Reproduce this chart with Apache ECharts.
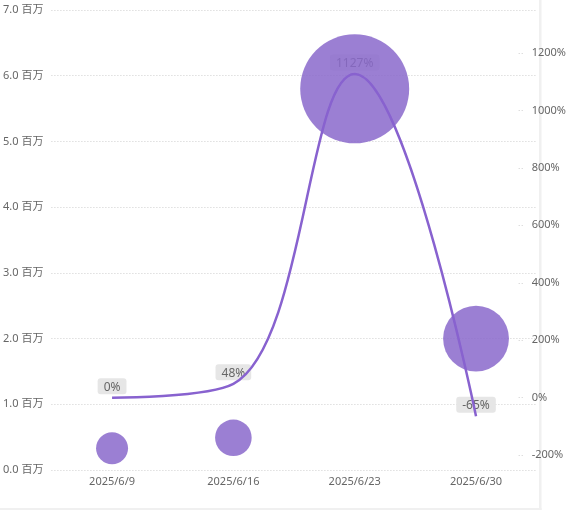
<!DOCTYPE html>
<html><head><meta charset="utf-8">
<script src="https://cdn.jsdelivr.net/npm/echarts@6/dist/echarts.min.js"></script>
<style>html,body{margin:0;padding:0;background:#fff;}#c{width:569px;height:519px;}</style>
</head><body><div id="c"></div>
<script>
var categories = ['2025/6/9', '2025/6/16', '2025/6/23', '2025/6/30'];
var amountValues = [330000, 490000, 5800000, 2000000];
var growthPct = [0, 48, 1127, -65];
var leftTicks = [0, 1, 2, 3, 4, 5, 6, 7];
var rightTicks = [-200, 0, 200, 400, 600, 800, 1000, 1200];

var FONT = '"Segoe UI","Noto Sans","Noto Sans CJK SC",sans-serif';
var chart = echarts.init(document.getElementById('c'));
var labelStyle = {
  show: true, position: 'top', distance: 3,
  formatter: function (p) { return p.value + '%'; },
  color: '#666', fontSize: 12, fontFamily: FONT,
  backgroundColor: '#e6e6e6', borderRadius: 3, padding: [3, 6, 1, 6]
};
chart.setOption({
  animation: false,
  grid: { left: 50, right: 32, top: 10, bottom: 49 },
  xAxis: {
    type: 'category', data: categories,
    axisLine: { show: false }, axisTick: { show: false },
    axisLabel: { color: '#666', fontSize: 11, fontFamily: FONT, margin: 6 }
  },
  yAxis: [{
    type: 'value', min: 0, max: 7000000, interval: 1000000,
    axisLine: { show: false }, axisTick: { show: false },
    axisLabel: { color: '#666', fontSize: 11, fontFamily: FONT, margin: 8,
      formatter: function (v) { return (v / 1e6).toFixed(1) + ' 百万'; } },
    splitLine: { lineStyle: { color: '#cfcfcf', type: [1, 2], width: 1 } }
  }, {
    type: 'value', position: 'right', offset: -14, min: -252, max: 1350,
    axisLine: { show: false },
    axisTick: { show: true, inside: true, length: 6, customValues: rightTicks,
      lineStyle: { color: '#cfcfcf', type: [1, 2] } },
    axisLabel: { color: '#666', fontSize: 11, fontFamily: FONT, margin: 9,
      customValues: rightTicks, formatter: function (v) { return v + '%'; } },
    splitLine: { show: false }
  }],
  series: [{
    type: 'line', yAxisIndex: 1, data: growthPct, smooth: 0.4, z: 1,
    symbol: 'circle', symbolSize: 1, showSymbol: true,
    itemStyle: { color: 'rgba(0,0,0,0)' },
    lineStyle: { width: 0, color: 'rgba(0,0,0,0)' },
    label: labelStyle
  }, {
    type: 'scatter', data: amountValues, z: 2,
    symbolSize: function (v) { return 2 * Math.sqrt(92 + 496 * v / 1e6); },
    itemStyle: { color: '#8a68cb', opacity: 0.85 }
  }, {
    type: 'line', yAxisIndex: 1, data: growthPct, smooth: 0.4, z: 3,
    symbol: 'none', lineStyle: { color: '#8862cf', width: 2.5 }
  }],
  graphic: [
    { type: 'rect', shape: { x: 539, y: 0, width: 2.5, height: 510 }, style: { fill: '#f0f0f0' }, silent: true },
    { type: 'rect', shape: { x: 0, y: 508, width: 541.5, height: 2 }, style: { fill: '#f0f0f0' }, silent: true }
  ]
});
</script></body></html>
